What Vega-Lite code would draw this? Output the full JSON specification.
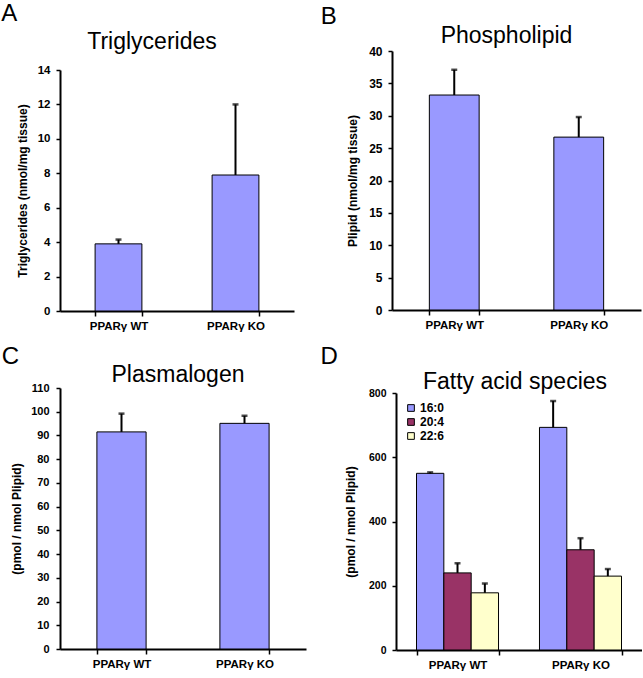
{
  "$schema": "https://vega.github.io/schema/vega-lite/v6.json",
  "background": "white",
  "padding": {"left": 1, "top": 2, "right": 0, "bottom": 0},
  "config": {
    "view": {"stroke": null},
    "font": "Liberation Sans",
    "axis": {
      "domainColor": "black", "domainWidth": 2, "tickColor": "black", "tickWidth": 1.5, "tickSize": 4,
      "labelFont": "Liberation Sans", "labelFontWeight": "bold", "labelFontSize": 11, "labelColor": "black",
      "titleFont": "Liberation Sans", "titleFontWeight": "bold", "titleFontSize": 12, "titleColor": "black",
      "grid": false, "labelPadding": 6, "labelOverlap": false
    },
    "axisX": {"labelAngle": 0, "tickBand": "extent", "title": null, "labelFontSize": 11.5, "labelPadding": 4, "tickSize": 5},
    "title": {"font": "Liberation Sans", "fontWeight": "normal", "color": "black"}
  },
  "datasets": {
    "tg": [
      {"group": "PPARγ WT", "value": 3.9, "upper": 4.15},
      {"group": "PPARγ KO", "value": 7.9, "upper": 12.0}
    ],
    "pl": [
      {"group": "PPARγ WT", "value": 33.2, "upper": 37.1},
      {"group": "PPARγ KO", "value": 26.7, "upper": 29.8}
    ],
    "pm": [
      {"group": "PPARγ WT", "value": 91.5, "upper": 99.2},
      {"group": "PPARγ KO", "value": 95.1, "upper": 98.3}
    ],
    "fa": [
      {"group": "PPARγ WT", "species": "16:0", "value": 550, "upper": 553},
      {"group": "PPARγ WT", "species": "20:4", "value": 240, "upper": 270},
      {"group": "PPARγ WT", "species": "22:6", "value": 178, "upper": 207},
      {"group": "PPARγ KO", "species": "16:0", "value": 693, "upper": 775},
      {"group": "PPARγ KO", "species": "20:4", "value": 312, "upper": 348},
      {"group": "PPARγ KO", "species": "22:6", "value": 230, "upper": 252}
    ]
  },
  "resolve": {"legend": {"fill": "independent"}},
  "columns": 2,
  "align": "none",
  "spacing": {"row": 13, "column": 14},
  "concat": [
    {
      "title": {"text": "A", "fontSize": 24, "anchor": "start", "offset": 5, "dx": -15},
      "vconcat": [
        {
          "width": 234, "height": 260,
          "title": {"text": "Triglycerides", "fontSize": 23, "offset": -3, "dx": -25},
          "data": {"name": "tg"},
          "encoding": {
            "x": {"field": "group", "type": "nominal", "sort": null, "scale": {"paddingInner": 0.6, "paddingOuter": 0.3}}
          },
          "layer": [
            {
              "mark": {"type": "bar", "fill": "#9999FF", "stroke": "black", "strokeWidth": 1},
              "encoding": {"y": {"field": "value", "type": "quantitative", "scale": {"domain": [0, 14], "range": [260, 19], "nice": false}, "axis": {"values": [0, 2, 4, 6, 8, 10, 12, 14], "labelOverlap": false, "title": "Triglycerides (nmol/mg tissue)", "titlePadding": 8, "labelFontSize": 11.5}}}
            },
            {
              "mark": {"type": "rule", "strokeWidth": 2, "color": "black"},
              "encoding": {"y": {"field": "value", "type": "quantitative", "axis": {"values": [0, 2, 4, 6, 8, 10, 12, 14], "labelOverlap": false, "title": "Triglycerides (nmol/mg tissue)", "titlePadding": 8, "labelFontSize": 11.5}}, "y2": {"field": "upper"}}
            },
            {
              "mark": {"type": "tick", "thickness": 2.5, "size": 6, "color": "black", "orient": "horizontal"},
              "encoding": {"y": {"field": "upper", "type": "quantitative", "axis": {"values": [0, 2, 4, 6, 8, 10, 12, 14], "labelOverlap": false, "title": "Triglycerides (nmol/mg tissue)", "titlePadding": 8, "labelFontSize": 11.5}}}
            }
          ]
        }
      ]
    },
    {
      "title": {"text": "B", "fontSize": 24, "anchor": "start", "offset": -4, "dx": -26},
      "vconcat": [
        {
          "width": 249, "height": 259,
          "title": {"text": "Phospholipid", "fontSize": 23, "offset": -3, "dx": -10},
          "data": {"name": "pl"},
          "encoding": {
            "x": {"field": "group", "type": "nominal", "sort": null, "scale": {"paddingInner": 0.6, "paddingOuter": 0.3}}
          },
          "layer": [
            {
              "mark": {"type": "bar", "fill": "#9999FF", "stroke": "black", "strokeWidth": 1},
              "encoding": {"y": {"field": "value", "type": "quantitative", "scale": {"domain": [0, 40], "nice": false}, "axis": {"values": [0, 5, 10, 15, 20, 25, 30, 35, 40], "labelOverlap": false, "title": "Plipid (nmol/mg tissue)", "titlePadding": 9, "labelFontSize": 12}}}
            },
            {
              "mark": {"type": "rule", "strokeWidth": 2, "color": "black"},
              "encoding": {"y": {"field": "value", "type": "quantitative", "axis": {"values": [0, 5, 10, 15, 20, 25, 30, 35, 40], "labelOverlap": false, "title": "Plipid (nmol/mg tissue)", "titlePadding": 9, "labelFontSize": 12}}, "y2": {"field": "upper"}}
            },
            {
              "mark": {"type": "tick", "thickness": 2.5, "size": 6, "color": "black", "orient": "horizontal"},
              "encoding": {"y": {"field": "upper", "type": "quantitative", "axis": {"values": [0, 5, 10, 15, 20, 25, 30, 35, 40], "labelOverlap": false, "title": "Plipid (nmol/mg tissue)", "titlePadding": 9, "labelFontSize": 12}}}
            }
          ]
        }
      ]
    },
    {
      "title": {"text": "C", "fontSize": 24, "anchor": "start", "offset": -5, "dx": -9},
      "vconcat": [
        {
          "width": 246, "height": 261,
          "title": {"text": "Plasmalogen", "fontSize": 23, "offset": -5, "dx": -5},
          "data": {"name": "pm"},
          "encoding": {
            "x": {"field": "group", "type": "nominal", "sort": null, "scale": {"paddingInner": 0.6, "paddingOuter": 0.3}}
          },
          "layer": [
            {
              "mark": {"type": "bar", "fill": "#9999FF", "stroke": "black", "strokeWidth": 1},
              "encoding": {"y": {"field": "value", "type": "quantitative", "scale": {"domain": [0, 110], "nice": false}, "axis": {"values": [0, 10, 20, 30, 40, 50, 60, 70, 80, 90, 100, 110], "labelOverlap": false, "title": "(pmol / nmol Plipid)", "titlePadding": 7, "labelPadding": 7}}}
            },
            {
              "mark": {"type": "rule", "strokeWidth": 2, "color": "black"},
              "encoding": {"y": {"field": "value", "type": "quantitative", "axis": {"values": [0, 10, 20, 30, 40, 50, 60, 70, 80, 90, 100, 110], "labelOverlap": false, "title": "(pmol / nmol Plipid)", "titlePadding": 7, "labelPadding": 7}}, "y2": {"field": "upper"}}
            },
            {
              "mark": {"type": "tick", "thickness": 2.5, "size": 6, "color": "black", "orient": "horizontal"},
              "encoding": {"y": {"field": "upper", "type": "quantitative", "axis": {"values": [0, 10, 20, 30, 40, 50, 60, 70, 80, 90, 100, 110], "labelOverlap": false, "title": "(pmol / nmol Plipid)", "titlePadding": 7, "labelPadding": 7}}}
            }
          ]
        }
      ]
    },
    {
      "title": {"text": "D", "fontSize": 24, "anchor": "start", "offset": 2, "dx": -24},
      "resolve": {"legend": {"fill": "independent"}},
      "vconcat": [
        {
          "width": 246, "height": 257,
          "title": {"text": "Fatty acid species", "fontSize": 23, "offset": -6, "dx": -4},
          "data": {"name": "fa"},
          "encoding": {
            "x": {"field": "group", "type": "nominal", "sort": null, "scale": {"paddingInner": 0.333, "paddingOuter": 0.1667}},
            "xOffset": {"field": "species", "type": "nominal", "sort": ["16:0", "20:4", "22:6"], "scale": {"paddingInner": 0, "paddingOuter": 0}}
          },
          "layer": [
            {
              "mark": {"type": "bar", "stroke": "black", "strokeWidth": 1},
              "encoding": {
                "y": {"field": "value", "type": "quantitative", "scale": {"domain": [0, 800], "nice": false}, "axis": {"values": [0, 200, 400, 600, 800], "labelOverlap": false, "title": "(pmol / nmol Plipid)", "titlePadding": 11, "labelFontSize": 10.5}},
                "fill": {"field": "species", "type": "nominal", "scale": {"domain": ["16:0", "20:4", "22:6"], "range": ["#9999FF", "#993366", "#FFFFCC"]},
                  "legend": {"title": null, "orient": "top-left", "offset": 9, "symbolType": "square", "symbolSize": 45, "symbolStrokeColor": "black", "symbolStrokeWidth": 1, "labelFont": "Liberation Sans", "labelFontWeight": "bold", "labelFontSize": 12, "labelColor": "black", "rowPadding": 2, "labelOffset": 3}}
              }
            },
            {
              "mark": {"type": "rule", "strokeWidth": 2, "color": "black"},
              "encoding": {"y": {"field": "value", "type": "quantitative", "axis": {"values": [0, 200, 400, 600, 800], "labelOverlap": false, "title": "(pmol / nmol Plipid)", "titlePadding": 11, "labelFontSize": 10.5}}, "y2": {"field": "upper"}}
            },
            {
              "mark": {"type": "tick", "thickness": 2.5, "size": 6, "color": "black", "orient": "horizontal"},
              "encoding": {"y": {"field": "upper", "type": "quantitative", "axis": {"values": [0, 200, 400, 600, 800], "labelOverlap": false, "title": "(pmol / nmol Plipid)", "titlePadding": 11, "labelFontSize": 10.5}}}
            }
          ]
        }
      ]
    }
  ]
}
